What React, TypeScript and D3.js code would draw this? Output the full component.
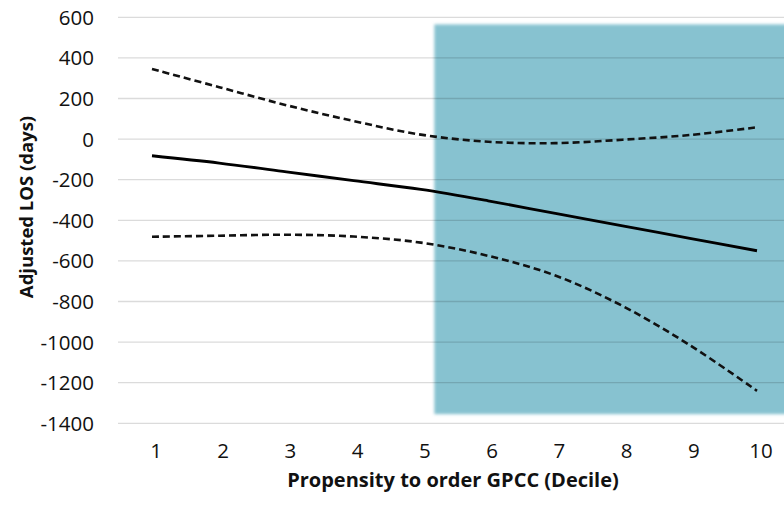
import React, { useEffect, useRef } from 'react';
import * as d3 from 'd3';

// deciles on the x axis
const deciles = [1, 2, 3, 4, 5, 6, 7, 8, 9, 10];
// adjusted LOS estimate and its confidence bounds (days)
const estimate = [-82, -118, -161, -205, -248, -304, -366, -427, -489, -550];
const upperBound = [345, 256, 167, 89, 22, -13, -20, -3, 20, 58];
const lowerBound = [-481, -476, -471, -480, -510, -575, -672, -822, -1015, -1240];
const yTicks = [600, 400, 200, 0, -200, -400, -600, -800, -1000, -1200, -1400];
// shaded region (high propensity deciles)
const shadeX = [5.2, 10.5];
const shadeY = [565, -1355];

const W = 784;
const H = 506;

function Chart() {
  const ref = useRef<SVGSVGElement>(null);

  useEffect(() => {
    const svg = d3.select(ref.current);
    svg.selectAll('*').remove();

    const x = d3.scaleLinear().domain([1, 10]).range([152, 757]);
    const y = d3.scaleLinear().domain([600, -1400]).range([17.3, 423.3]);

    const defs = svg.append('defs');
    defs.append('filter').attr('id', 'soft')
      .attr('x', '-5%').attr('y', '-5%').attr('width', '110%').attr('height', '110%')
      .append('feGaussianBlur').attr('stdDeviation', 1.4);

    // shaded block
    svg.append('rect')
      .attr('x', x(shadeX[0]))
      .attr('y', y(shadeY[0]))
      .attr('width', x(shadeX[1]) - x(shadeX[0]))
      .attr('height', y(shadeY[1]) - y(shadeY[0]))
      .attr('fill', '#87c2d0')
      .attr('filter', 'url(#soft)');

    // gridlines
    svg.append('g').selectAll('line')
      .data(yTicks)
      .enter()
      .append('line')
      .attr('x1', 118)
      .attr('x2', W)
      .attr('y1', d => y(d))
      .attr('y2', d => y(d))
      .attr('stroke', '#000')
      .attr('stroke-opacity', 0.14)
      .attr('stroke-width', 1.3);

    // y tick labels
    svg.append('g').selectAll('text')
      .data(yTicks)
      .enter()
      .append('text')
      .attr('x', 94)
      .attr('y', d => y(d) + 7.5)
      .attr('text-anchor', 'end')
      .attr('font-family', 'Open Sans')
      .attr('font-size', 20.5)
      .attr('fill', '#111')
      .text(d => d);

    // x tick labels
    svg.append('g').selectAll('text')
      .data(deciles)
      .enter()
      .append('text')
      .attr('x', d => x(d) + 4)
      .attr('y', 458)
      .attr('text-anchor', 'middle')
      .attr('font-family', 'Open Sans')
      .attr('font-size', 20.5)
      .attr('fill', '#111')
      .text(d => d);

    const line = d3.line<number>()
      .x((d, i) => x(deciles[i]))
      .y(d => y(d))
      .curve(d3.curveCatmullRom);

    svg.append('path')
      .attr('d', line(upperBound))
      .attr('fill', 'none')
      .attr('stroke', '#111')
      .attr('stroke-width', 2.6)
      .attr('stroke-dasharray', '7,4');

    svg.append('path')
      .attr('d', line(lowerBound))
      .attr('fill', 'none')
      .attr('stroke', '#111')
      .attr('stroke-width', 2.6)
      .attr('stroke-dasharray', '7,4');

    svg.append('path')
      .attr('d', line(estimate))
      .attr('fill', 'none')
      .attr('stroke', '#000')
      .attr('stroke-width', 2.8);

    // axis titles
    svg.append('text')
      .attr('x', 453)
      .attr('y', 487)
      .attr('text-anchor', 'middle')
      .attr('font-family', 'Open Sans')
      .attr('font-weight', 'bold')
      .attr('font-size', 20)
      .attr('fill', '#111')
      .text('Propensity to order GPCC (Decile)');

    svg.append('text')
      .attr('transform', 'translate(33,207) rotate(-90)')
      .attr('text-anchor', 'middle')
      .attr('font-family', 'Open Sans')
      .attr('font-weight', 'bold')
      .attr('font-size', 18.5)
      .attr('fill', '#111')
      .text('Adjusted LOS (days)');
  }, []);

  return (
    <svg
      ref={ref}
      width={W}
      height={H}
      style={{ position: 'absolute', left: 0, top: 0, background: '#fff' }}
    />
  );
}

export default function App() {
  return <Chart />;
}
